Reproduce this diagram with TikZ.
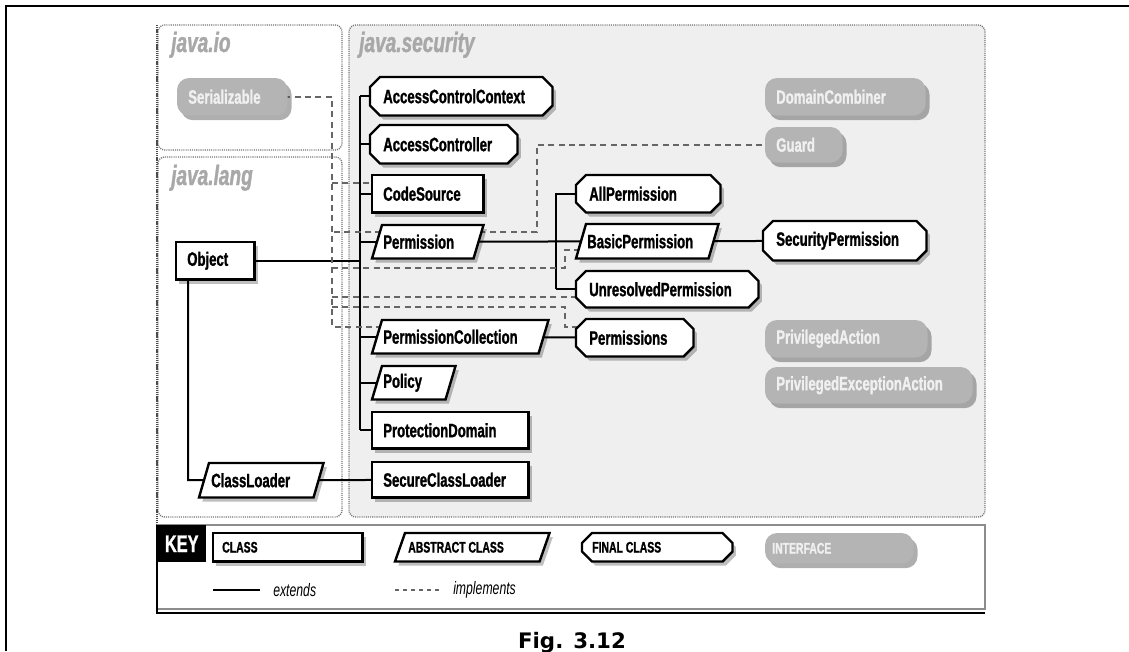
\documentclass[tikz,border=0pt]{standalone}
\usepackage{fontspec}
\newfontfamily\cf[FakeStretch=0.68]{Liberation Sans}
\newfontfamily\cfh[FakeStretch=0.68,FakeBold=1.2]{Liberation Sans}
\newfontfamily\dvs{DejaVu Sans}
\usetikzlibrary{shadows,calc}
\pgfdeclarelayer{pkg}\pgfdeclarelayer{conn}\pgfdeclarelayer{shp}
\pgfsetlayers{pkg,conn,shp,main}
\definecolor{ifill}{HTML}{B4B4B4}
\definecolor{itext}{HTML}{F0F0F0}
\definecolor{pkgbg}{HTML}{EFEFEF}
\definecolor{pkglbl}{HTML}{A8A8A8}
\tikzset{
  outl/.style={draw=black, line width=1.8pt, fill=white, line join=miter,
    drop shadow={shadow xshift=2.5pt, shadow yshift=-3pt, fill=black, opacity=0.25}},
  ifc/.style={fill=ifill, rounded corners=9pt,
    drop shadow={shadow xshift=3pt, shadow yshift=-3.5pt, fill=black!70, opacity=0.45}},
  lbl/.style={inner sep=0pt, font=\cfh\bfseries\fontsize{14.5pt}{16pt}\selectfont},
  pkgl/.style={inner sep=0pt, text=pkglbl, font=\cfh\bfseries\itshape\fontsize{21pt}{23pt}\selectfont},
  pkgb/.style={draw=black!55, line width=1pt, dash pattern=on 0.8pt off 0.8pt, rounded corners=5pt},
  ext/.style={draw=black, line width=1.5pt},
  impl/.style={draw=black!60, line width=1.1pt, dash pattern=on 4.5pt off 3.3pt},
  keyl/.style={inner sep=0pt, font=\cf\itshape\fontsize{13.5pt}{15pt}\selectfont},
}
\newcommand\keyf{\fontsize{11.5pt}{13pt}\selectfont}
\newcommand\shpclass[1]{\draw[outl] (#1.south west) rectangle (#1.north east);}
\newcommand\shpabs[1]{\draw[outl] (#1.south west) -- ([xshift=7.5pt]#1.north west) -- (#1.north east) -- ([xshift=-7.5pt]#1.south east) -- cycle;}
\newcommand\shpfinal[1]{\draw[outl] ([xshift=7.5pt]#1.north west) -- ([xshift=-7.5pt]#1.north east) -- ([yshift=-7.5pt]#1.north east) -- ([yshift=7.5pt]#1.south east) -- ([xshift=-7.5pt]#1.south east) -- ([xshift=7.5pt]#1.south west) -- ([yshift=7.5pt]#1.south west) -- ([yshift=-7.5pt]#1.north west) -- cycle;}
\newcommand\shpiface[1]{\fill[ifc] (#1.south west) rectangle (#1.north east);}
% name, shape, x1, y1, x2, y2, text, inset
\newcommand\umlbox[8]{%
  \node[anchor=north west, inner sep=0pt, minimum width={(#5-#3)*0.75pt}, minimum height={(#6-#4)*0.75pt}] (#1) at (#3,#4) {};
  \begin{pgfonlayer}{shp}#2{#1}\end{pgfonlayer}
  \node[lbl, anchor=west] (#1-t) at ([xshift=#8]#1.west) {#7};
}
\begin{document}
\begin{tikzpicture}[x=0.75pt, y=-0.75pt]
\useasboundingbox (0,0) rectangle (1129,651);
% page lines
\coordinate (pgA) at (6,651);
\coordinate (pgB) at (6,6);
\coordinate (pgC) at (1129,6);
\draw[line width=1.5pt] (pgA) -- (pgB) -- (pgC);
% packages
\begin{pgfonlayer}{pkg}
\draw[pkgb] (158,25) rectangle (342,150);
\draw[pkgb] (158,157) rectangle (342,517);
\draw[pkgb, fill=pkgbg] (349,25) rectangle (985,517);
\draw[black!70, line width=1.4pt, dash pattern=on 1pt off 0.6pt] (157,25) -- (157,525);
\end{pgfonlayer}
\node[pkgl, anchor=base west] (lio) at (171,52) {java.io};
\node[pkgl, anchor=base west] (lsec) at (359,52) {java.security};
\node[pkgl, anchor=base west] (llang) at (171,185) {java.lang};
% interfaces
\umlbox{ser}{\shpiface}{177}{78}{287}{115}{\color{itext}Serializable}{8.25pt}
\umlbox{dc}{\shpiface}{765}{78}{925}{115}{\color{itext}DomainCombiner}{8.25pt}
\umlbox{guard}{\shpiface}{765}{127}{842}{162}{\color{itext}Guard}{8.25pt}
\umlbox{pa}{\shpiface}{765}{320}{927}{357}{\color{itext}PrivilegedAction}{8.25pt}
\umlbox{pea}{\shpiface}{765}{367}{972}{403}{\color{itext}PrivilegedExceptionAction}{8.25pt}
% classes
\umlbox{acc}{\shpfinal}{370}{77}{552}{115}{AccessControlContext}{9.75pt}
\umlbox{actl}{\shpfinal}{370}{125}{517}{163}{AccessController}{9.75pt}
\umlbox{cs}{\shpclass}{372}{175}{483}{212}{CodeSource}{8.25pt}
\umlbox{perm}{\shpabs}{372}{225}{483}{258}{Permission}{8.25pt}
\umlbox{pc}{\shpabs}{372}{320}{548}{353}{PermissionCollection}{8.25pt}
\umlbox{pol}{\shpabs}{372}{366}{455}{399}{Policy}{8.25pt}
\umlbox{pd}{\shpclass}{372}{412}{528}{448}{ProtectionDomain}{8.25pt}
\umlbox{scl}{\shpclass}{372}{462}{528}{497}{SecureClassLoader}{8.25pt}
\umlbox{cl}{\shpabs}{199}{463}{323}{497}{ClassLoader}{9pt}
\umlbox{obj}{\shpclass}{176}{242}{254}{279}{Object}{8.25pt}
\umlbox{allp}{\shpfinal}{576}{175}{720}{212}{AllPermission}{9.75pt}
\umlbox{bp}{\shpabs}{576}{224}{718}{258}{BasicPermission}{8.25pt}
\umlbox{unr}{\shpfinal}{576}{271}{758}{307}{UnresolvedPermission}{9.75pt}
\umlbox{perms}{\shpfinal}{576}{319}{693}{356}{Permissions}{9.75pt}
\umlbox{secp}{\shpfinal}{763}{221}{926}{260}{SecurityPermission}{9.75pt}
% connectors
\begin{pgfonlayer}{conn}
\coordinate (trT) at (360,96);
\coordinate (trB) at (360,430);
\draw[ext] (trT) -- (trB);
\foreach \n in {acc,actl,cs,perm,pc,pol,pd} \draw[ext] (\n.center) -- (\n.center -| trT);
\draw[ext] (obj.center) -- (obj.center -| trT);
\coordinate (ocl) at (188,480);
\draw[ext] (obj.center -| ocl) -- (ocl) -- (cl.center);
\draw[ext] (cl.center) -- (scl.center);
\coordinate (t2T) at (556,193);
\coordinate (t2B) at (556,289);
\draw[ext] (perm.center) -- (bp.center);
\draw[ext] (t2T) -- (t2B);
\draw[ext] (allp.center) -- (allp.center -| t2T);
\draw[ext] (unr.center) -- (unr.center -| t2T);
\draw[ext] (bp.center) -- (secp.center);
\draw[ext] (pc.center) -- (perms.center);
% implements
\coordinate (dB) at (332,327);
\draw[impl] (ser.center) -| (dB) -- (dB -| pc.center);
\coordinate (dCS) at (332,183);
\draw[impl] (dCS) -- (dCS -| cs.center);
\coordinate (dG) at (332,232);
\coordinate (gK) at (537,232);
\draw[impl] (guard.center) -| (gK) -- (dG);
\coordinate (dBP) at (332,268);
\coordinate (bK1) at (565,268);
\coordinate (bK2) at (565,250);
\draw[impl] (dBP) -- (bK1) -- (bK2) -- (bK2 -| bp.center);
\coordinate (dU) at (332,297);
\draw[impl] (dU) -- (dU -| unr.center);
\coordinate (dP) at (332,307);
\coordinate (pK1) at (565,307);
\coordinate (pK2) at (565,327);
\draw[impl] (dP) -- (pK1) -- (pK2) -- (pK2 -| perms.center);
\end{pgfonlayer}
% key
\draw[black!45, line width=1pt] (157,525) -- (985,525) -- (985,609) -- (157,609);
\draw[line width=1.6pt] (157,525) -- (157,613) -- (985,613);
\node[fill=black, anchor=north west, minimum width=36.75pt, minimum height=27.75pt, inner sep=0pt, text=white, font=\cfh\bfseries\fontsize{18pt}{20pt}\selectfont] (key) at (157,525) {KEY};
\umlbox{kc}{\shpclass}{213}{533}{362}{561}{\keyf CLASS}{6.75pt}
\umlbox{ka}{\shpabs}{395}{533}{549}{561}{\keyf ABSTRACT CLASS}{9.75pt}
\umlbox{kf}{\shpfinal}{582}{533}{732}{561}{\keyf FINAL CLASS}{7.5pt}
\umlbox{ki}{\shpiface}{765}{533}{913}{563}{\keyf\color{itext}INTERFACE}{5.25pt}
\coordinate (exA) at (213,590);
\coordinate (exB) at (260,590);
\draw[ext] (exA) -- (exB);
\node[keyl, anchor=west] (exT) at (273,590) {extends};
\coordinate (imA) at (395,590);
\coordinate (imB) at (442,590);
\draw[impl, dash pattern=on 3pt off 3pt] (imA) -- (imB);
\node[keyl, anchor=west] (imT) at (453,590) {implements};
\node[font=\dvs\bfseries\fontsize{16pt}{18pt}\selectfont, anchor=base, inner sep=0pt] (fig) at (572,648) {Fig. 3.12};
\end{tikzpicture}
\end{document}
